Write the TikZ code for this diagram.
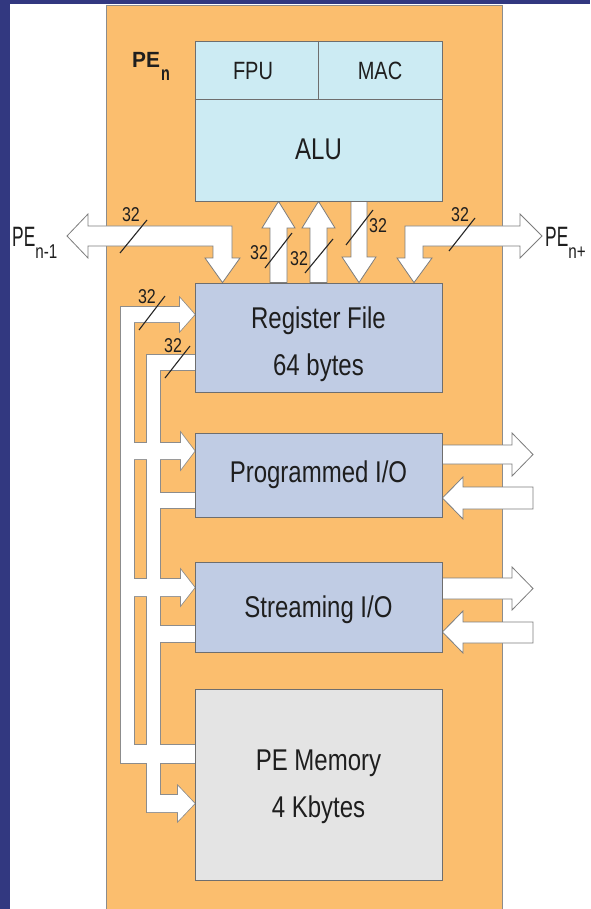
\documentclass[tikz,border=0pt]{standalone}
\usepackage{fontspec}
\usepackage{graphicx}
\setmainfont{Liberation Sans}
\usetikzlibrary{calc}
\definecolor{navy}{RGB}{50,56,128}
\definecolor{peorange}{RGB}{251,190,110}
\definecolor{alublue}{RGB}{204,235,243}
\definecolor{rfblue}{RGB}{192,204,228}
\definecolor{memgray}{RGB}{228,228,228}
\definecolor{boxline}{RGB}{110,110,110}
\definecolor{arrowline}{RGB}{125,125,125}
\definecolor{txt}{RGB}{30,30,30}
\begin{document}
\begin{tikzpicture}[x=1pt,y=-1pt,
  blk/.style={draw=boxline, line width=0.8pt, inner sep=0pt, minimum width=247pt},
  lbl/.style={text=txt, font=\fontsize{30}{36}\selectfont, xscale=0.8, anchor=base, inner sep=0pt},
  smlbl/.style={text=txt, font=\fontsize{25}{30}\selectfont, xscale=0.8, anchor=base, inner sep=0pt},
  numlbl/.style={text=txt, font=\fontsize{20}{24}\selectfont, xscale=0.8, anchor=base, inner sep=0pt},
  pelbl/.style={text=txt, font=\fontsize{28}{32}\selectfont, anchor=base west, inner sep=0pt},
  barrow/.style={fill=white, draw=arrowline, line width=0.8pt, line join=miter},
  busline/.style={draw=black!45, line width=1.6pt},
  busfill/.style={fill=white},
  slash/.style={draw=black!85, line width=1.1pt}
]
\useasboundingbox (0,0) rectangle (590,909);
\clip (0,0) rectangle (590,909);
% frame
\fill[navy] (0,0) rectangle (590,909);
\fill[white] (10,4) rectangle (590,912);
\draw[fill=peorange, draw=black!45, line width=0.8pt] (106,5) rectangle (502,915);

% boxes (named; filled again on top later)
\path (318.5,121) node[blk, minimum height=160pt] (alu) {}
      (318.5,337.5) node[blk, minimum height=109pt] (rf) {}
      (318.5,475) node[blk, minimum height=84pt] (pio) {}
      (318.5,607) node[blk, minimum height=90pt] (sio) {}
      (318.5,784.5) node[blk, minimum height=191pt] (mem) {};

% left buses: outline pass then fill pass
\foreach \st in {busline,busfill}{
  \path[\st] (121,307) rectangle (134,763);
  \path[\st] (121,307) -- (180,307) -- (180,298) -- (rf.west |- 0,314.5) -- (180,331) -- (180,322) -- (121,322) -- cycle;
  \path[\st] (121,443) -- (181,443) -- (181,433) -- (pio.west |- 0,451) -- (181,469) -- (181,459) -- (121,459) -- cycle;
  \path[\st] (121,579) -- (181,579) -- (181,570) -- (sio.west |- 0,587.5) -- (181,605) -- (181,596) -- (121,596) -- cycle;
  \path[\st] (121,745) rectangle (mem.west |- 0,763);
  \path[\st] (147,355) rectangle (160,812);
  \path[\st] (147,355) rectangle (rf.west |- 0,370);
  \path[\st] (147,493) rectangle (pio.west |- 0,508);
  \path[\st] (147,626) rectangle (sio.west |- 0,642);
  \path[\st] (147,795) -- (178,795) -- (178,786) -- (mem.west |- 0,803.5) -- (178,821) -- (178,812) -- (147,812) -- cycle;
}

% vertical block arrows between ALU and register file
\draw[barrow] (270,0 |- rf.north) -- (270,228) -- (262,228) -- (278.5,0 |- alu.south) -- (295,228) -- (287,228) -- (287,0 |- rf.north) -- cycle;
\draw[barrow] (310,0 |- rf.north) -- (310,228) -- (302,228) -- (318.5,0 |- alu.south) -- (335,228) -- (327,228) -- (327,0 |- rf.north) -- cycle;
\draw[barrow] (351,0 |- alu.south) -- (351,257) -- (342,257) -- (359,0 |- rf.north) -- (376,257) -- (367,257) -- (367,0 |- alu.south) -- cycle;

% neighbour arrows
\draw[barrow] (67,236) -- (88,214) -- (88,226) -- (232,226) -- (232,258) -- (240,258) -- (222.5,0 |- rf.north) -- (205,258) -- (213,258) -- (213,246) -- (88,246) -- (88,258) -- cycle;
\draw[barrow] (542,236) -- (520,214) -- (520,226) -- (405,226) -- (405,258) -- (397,258) -- (414,0 |- rf.north) -- (432,258) -- (423,258) -- (423,246) -- (520,246) -- (520,258) -- cycle;

% I/O arrows on the right
\draw[barrow] (pio.east |- 0,445) -- (512,445) -- (512,433) -- (533,454.5) -- (512,476) -- (512,464) -- (pio.east |- 0,464) -- cycle;
\draw[barrow] (533,487) -- (463,487) -- (463,477) -- (pio.east |- 0,498) -- (463,519) -- (463,509) -- (533,509) -- cycle;
\draw[barrow] (sio.east |- 0,578) -- (512,578) -- (512,567) -- (533,588.5) -- (512,610) -- (512,599) -- (sio.east |- 0,599) -- cycle;
\draw[barrow] (533,622) -- (463,622) -- (463,611) -- (sio.east |- 0,632) -- (463,653) -- (463,643) -- (533,643) -- cycle;

% boxes on top
\node[blk, fill=alublue, minimum height=160pt] at (alu) {};
\draw[draw=boxline, line width=0.8pt] (alu.west |- 0,99) -- (alu.east |- 0,99);
\draw[draw=boxline, line width=0.8pt] (318,0 |- alu.north) -- (318,99);
\node[blk, fill=rfblue, minimum height=109pt] at (rf) {};
\node[blk, fill=rfblue, minimum height=84pt] at (pio) {};
\node[blk, fill=rfblue, minimum height=90pt] at (sio) {};
\node[blk, fill=memgray, minimum height=191pt] at (mem) {};

% texts
\node[smlbl] (tfpu) at (253,80) {FPU};
\node[smlbl] (tmac) at (380,80) {MAC};
\node[lbl] (talu) at (318.5,160) {ALU};
\node[lbl] (trf1) at (318.5,328) {Register File};
\node[lbl] (trf2) at (318.5,375) {64 bytes};
\node[lbl] (tpio) at (318.5,482) {Programmed I/O};
\node[lbl] (tsio) at (318.5,617) {Streaming I/O};
\node[lbl] (tmem1) at (318.5,770) {PE Memory};
\node[lbl] (tmem2) at (318.5,817) {4 Kbytes};

\node[text=txt, anchor=base west, inner sep=0pt, font=\bfseries\fontsize{22}{26}\selectfont] (pen) at (132,68)
  {\scalebox{0.95}[1]{PE}\hspace{1pt}\raisebox{-13pt}{\fontsize{20}{24}\selectfont\scalebox{0.72}[1]{n}}};
\node[pelbl] (penm) at (12,247)
  {\scalebox{0.62}[1]{PE}\raisebox{-11pt}{\fontsize{20}{24}\selectfont\scalebox{0.76}[1]{n-1}}};
\node[pelbl] (penp) at (545,247)
  {\scalebox{0.62}[1]{PE}\raisebox{-11pt}{\fontsize{20}{24}\selectfont\scalebox{0.76}[1]{n+}}};

% bus widths
\node[numlbl] (w1) at (131,222) {32};
\draw[slash] (120,253) -- (147,220);
\node[numlbl] (w2) at (460,222) {32};
\draw[slash] (449,251) -- (475,218);
\node[numlbl] (w3) at (259,259) {32};
\draw[slash] (265,268) -- (292,233);
\node[numlbl] (w4) at (299,265) {32};
\draw[slash] (305,273) -- (333,239);
\node[numlbl] (w5) at (378,233) {32};
\draw[slash] (346,245) -- (373,210);
\node[numlbl] (w6) at (147,303) {32};
\draw[slash] (139,330) -- (165,296);
\node[numlbl] (w7) at (173,352) {32};
\draw[slash] (165,378) -- (190,346);
\end{tikzpicture}
\end{document}
